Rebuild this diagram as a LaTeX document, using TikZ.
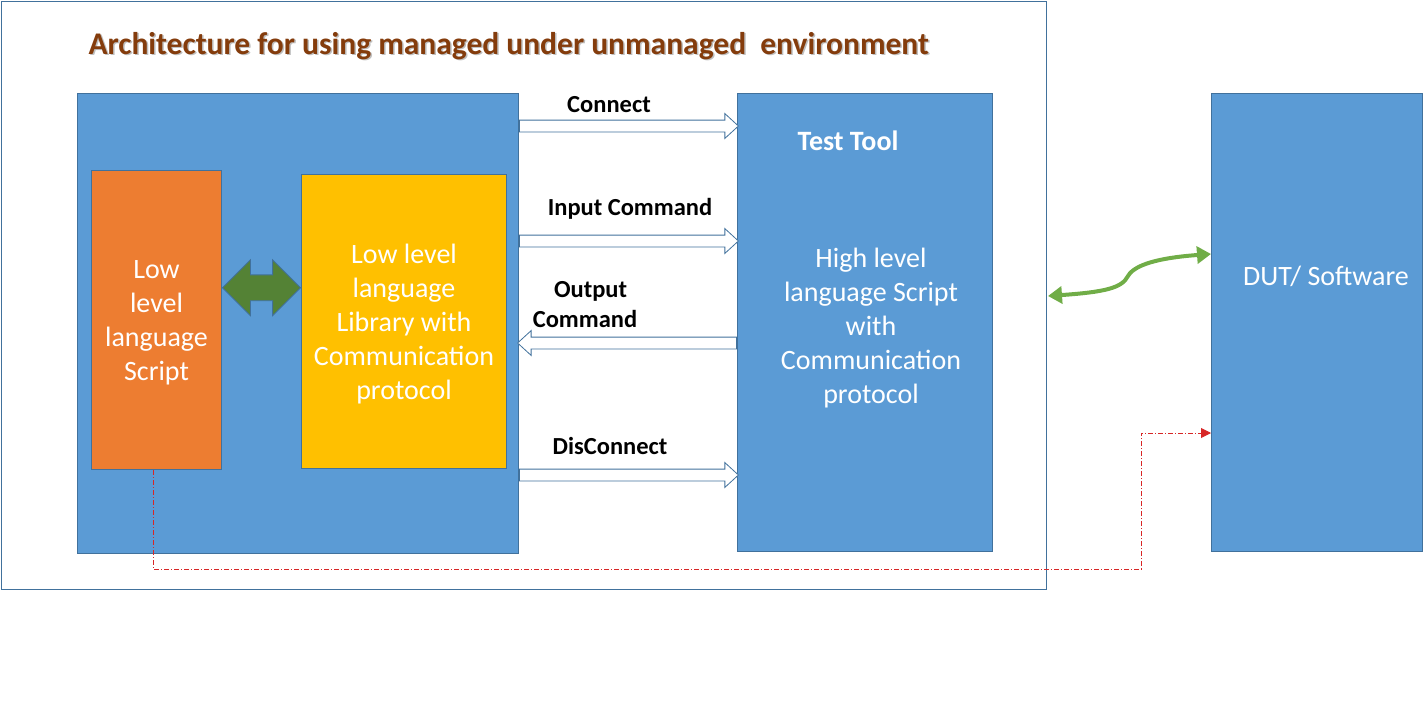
\documentclass[tikz,border=0pt]{standalone}
\usepackage{fontspec}
\setmainfont{Carlito}
\usetikzlibrary{arrows.meta,positioning,shapes.arrows,calc}
\definecolor{boxblue}{HTML}{5B9BD5}
\definecolor{edgeblue}{HTML}{41719C}
\definecolor{scriptorange}{HTML}{ED7D31}
\definecolor{libyellow}{HTML}{FFC000}
\definecolor{darkgreen}{HTML}{548235}
\definecolor{lightgreen}{HTML}{70AD47}
\definecolor{titlebrown}{HTML}{843C0C}
\definecolor{linkred}{HTML}{D00000}
\tikzset{
  block/.style={draw=edgeblue, line width=1pt, anchor=north west, inner sep=0pt},
  boxtext/.style={text=white, align=center, font=\fontsize{28}{34}\selectfont},
  msgtext/.style={font=\bfseries\fontsize{24.5}{30}\selectfont, align=center},
  hollow/.style={single arrow, draw=edgeblue, fill=white, line width=0.8pt,
    minimum width=24pt, single arrow head extend=6.5pt, single arrow tip angle=85,
    inner xsep=0pt, inner ysep=5.5pt, minimum height=219pt}
}
\begin{document}
\begin{tikzpicture}[x=1pt,y=-1pt]
  \useasboundingbox (0,0) rectangle (1428,705);
  % outer frame and title
  \draw[edgeblue, line width=1pt] (1,1) rectangle (1046,589);
  \node[anchor=west, text=black!25, font=\bfseries\fontsize{31.5}{36}\selectfont] at (86.5,47.5) {Architecture for using managed under unmanaged\ \ environment};
  \node[anchor=west, text=titlebrown, font=\bfseries\fontsize{31.5}{36}\selectfont] (title) at (85,46) {Architecture for using managed under unmanaged\ \ environment};
  % blocks
  \node[block, fill=boxblue, minimum width=441pt, minimum height=460pt] (host) at (77,93) {};
  \node[block, fill=scriptorange, minimum width=130pt, minimum height=299pt] (lls) at (91,170) {};
  \node[boxtext] at ($(lls.center)+(0,3)$) {Low\\level\\language\\Script};
  \node[block, fill=libyellow, minimum width=205pt, minimum height=294pt] (lib) at (301,174) {};
  \node[boxtext] at ($(lib.center)+(0,3)$) {Low level\\language\\Library with\\Communication\\protocol};
  \node[block, fill=boxblue, minimum width=255pt, minimum height=458pt] (tool) at (737,93) {};
  \node[text=white, font=\bfseries\fontsize{28}{34}\selectfont] (tooltitle) at (848,141) {Test Tool};
  \node[boxtext] at ($(tool.center)+(6,6)$) {High level\\language Script\\with\\Communication\\protocol};
  \node[block, fill=boxblue, minimum width=211pt, minimum height=458pt] (dut) at (1211,93) {};
  \node[text=white, font=\fontsize{28}{34}\selectfont] (duttext) at (1326,276) {DUT/ Software};
  % script <-> library
  \node[double arrow, draw=edgeblue, fill=darkgreen, line width=0.8pt, minimum height=78pt,
    minimum width=55pt, double arrow head extend=15pt, inner xsep=0pt, inner ysep=12.5pt]
    (bind) at ($(lls.east)!0.5!(lib.west)+(0,-33)$) {};
  % messages between host and tool
  \node[hollow, anchor=tail] (connect) at (host.east |- 0,126) {};
  \node[msgtext] at (609,105) {Connect};
  \node[hollow, anchor=tail] (input) at (host.east |- 0,241) {};
  \node[msgtext] at (630,209) {Input Command};
  \node[hollow, anchor=tail, shape border rotate=180] (output) at (tool.west |- 0,343) {};
  \node[msgtext] at (585,305) {\ \ Output\\Command};
  \node[hollow, anchor=tail] (disconnect) at (host.east |- 0,475) {};
  \node[msgtext] at (610,446) {DisConnect};
  % tool <-> device
  \draw[lightgreen, line width=4pt, {Triangle[length=14pt,width=17pt]}-{Triangle[length=14pt,width=17pt]}]
    (1048,296) .. controls (1105,292) and (1122,288) .. (1128,276)
    .. controls (1136,262) and (1170,257) .. (dut.west |- 0,254);
  \draw[linkred!85, line width=0.9pt, dash pattern=on 5pt off 2pt on 1pt off 2pt, -{Triangle[length=10pt,width=10pt]}]
    (lls.south -| 153,0) -- (153,569) -- (1141,569) -- (1141,433) -- (dut.west |- 0,433);
\end{tikzpicture}
\end{document}
